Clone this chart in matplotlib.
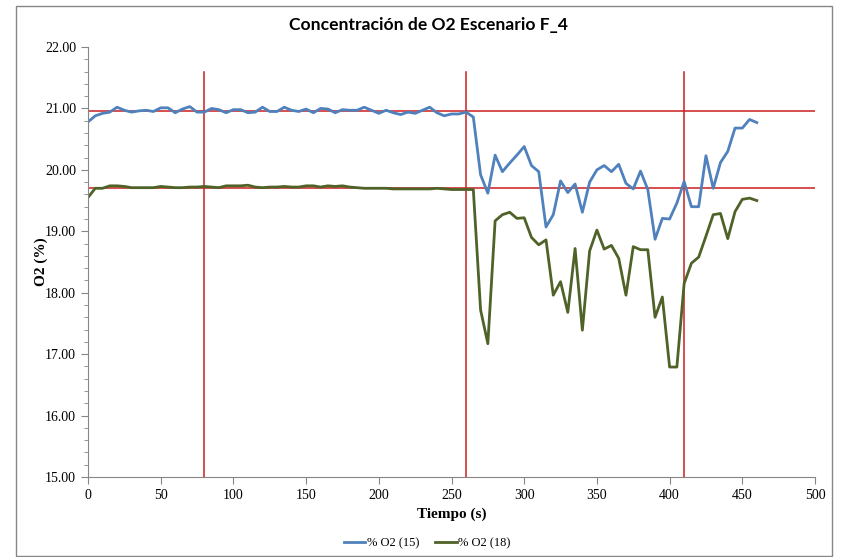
import numpy as np
import matplotlib.pyplot as plt
from matplotlib.ticker import MultipleLocator, FormatStrFormatter
from matplotlib.patches import Rectangle

plt.rcParams['font.family'] = ['Liberation Serif', 'DejaVu Serif']

# tiempo (s), un punto cada 5 s
tiempo = list(range(0, 465, 5))

o2_15 = [20.78, 20.88, 20.92, 20.94, 21.02, 20.97, 20.94, 20.96, 20.97, 20.95,
         21.01, 21.01, 20.93, 20.99, 21.03, 20.94, 20.94, 21.00, 20.98, 20.93,
         20.98, 20.98, 20.93, 20.94, 21.02, 20.95, 20.95, 21.02, 20.97, 20.95,
         20.99, 20.93, 21.00, 20.99, 20.93, 20.98, 20.97, 20.97, 21.02, 20.97,
         20.92, 20.97, 20.93, 20.90, 20.94, 20.92, 20.97, 21.02, 20.93, 20.88,
         20.91, 20.91, 20.94, 20.86, 19.92, 19.62, 20.24, 19.97, 20.11, 20.24,
         20.38, 20.07, 19.97, 19.07, 19.27, 19.82, 19.63, 19.77, 19.31, 19.80,
         20.00, 20.07, 19.97, 20.09, 19.78, 19.69, 19.98, 19.68, 18.87, 19.21,
         19.20, 19.46, 19.81, 19.40, 19.40, 20.23, 19.70, 20.12, 20.30, 20.68,
         20.68, 20.82, 20.77]

o2_18 = [19.55, 19.70, 19.70, 19.74, 19.74, 19.73, 19.71, 19.71, 19.71, 19.71,
         19.73, 19.72, 19.71, 19.71, 19.72, 19.72, 19.73, 19.72, 19.71, 19.74,
         19.74, 19.74, 19.75, 19.72, 19.71, 19.72, 19.72, 19.73, 19.72, 19.72,
         19.74, 19.74, 19.72, 19.74, 19.73, 19.74, 19.72, 19.71, 19.70, 19.70,
         19.70, 19.70, 19.69, 19.69, 19.69, 19.69, 19.69, 19.69, 19.70, 19.69,
         19.68, 19.68, 19.68, 19.68, 17.72, 17.17, 19.17, 19.27, 19.31, 19.21,
         19.22, 18.90, 18.78, 18.86, 17.96, 18.18, 17.68, 18.72, 17.39, 18.68,
         19.02, 18.71, 18.77, 18.56, 17.96, 18.75, 18.70, 18.70, 17.60, 17.93,
         16.79, 16.79, 18.15, 18.48, 18.58, 18.92, 19.27, 19.29, 18.88, 19.32,
         19.52, 19.54, 19.50]

# lineas de referencia
ref_h = [20.96, 19.70]
ref_v = [80, 260, 410]
ref_v_top = 21.6

fig = plt.figure(figsize=(8.41, 5.57), dpi=100)
fig.patches.append(Rectangle((16 / 841, 0.002), 816 / 841, 1 - 6 / 557 - 0.002,
                             transform=fig.transFigure, fill=False,
                             edgecolor='#868686', lw=1))
ax = fig.add_axes([88 / 841, 80 / 557, 727 / 841, 430 / 557])

for y in ref_h:
    ax.plot([0, 500], [y, y], color='#cc1f1f', lw=1.1)
for x in ref_v:
    ax.plot([x, x], [15, ref_v_top], color='#cc1f1f', lw=1.1)

ax.plot(tiempo, o2_15, color='#4f81bd', lw=2, label='% O2 (15)')
ax.plot(tiempo, o2_18, color='#4f6228', lw=2, label='% O2 (18)')

ax.set_xlim(0, 500)
ax.set_ylim(15, 22)
ax.xaxis.set_major_locator(MultipleLocator(50))
ax.yaxis.set_major_locator(MultipleLocator(1))
ax.yaxis.set_minor_locator(MultipleLocator(0.2))
ax.yaxis.set_major_formatter(FormatStrFormatter('%.2f'))
for s in ['top', 'right']:
    ax.spines[s].set_visible(False)
for s in ['left', 'bottom']:
    ax.spines[s].set_color('#868686')
ax.tick_params(which='both', direction='out', color='#868686', labelsize=10)
ax.tick_params(which='major', length=5)
ax.tick_params(which='minor', length=3)

ax.set_xlabel('Tiempo (s)', fontweight='bold', fontsize=11, labelpad=4)
ax.set_ylabel('O2 (%)', fontweight='bold', fontsize=11, labelpad=-2)
fig.text(0.51, 1 - 25 / 557, 'Concentración de O2 Escenario F_4',
         ha='center', va='center', fontfamily='Lato', fontweight='bold',
         fontsize=12.6)

fig.legend(loc='center', bbox_to_anchor=(0.508, 14 / 557), ncol=2, frameon=False,
           prop={'size': 9}, handlelength=1.7, handletextpad=0.1,
           columnspacing=1.3)

fig.savefig('out.png', dpi=100)
